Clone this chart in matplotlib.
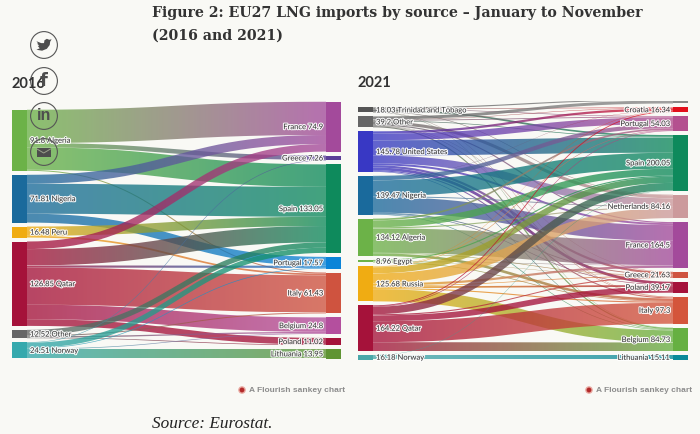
import numpy as np
import matplotlib
matplotlib.use('Agg')
import matplotlib.pyplot as plt
import matplotlib.patheffects as pe
from matplotlib.colors import to_rgb
from matplotlib.patches import Circle, Polygon, Rectangle
from matplotlib.path import Path

# Data, 2016

sources_16 = ['Algeria', 'Nigeria', 'Peru', 'Qatar', 'Other', 'Norway']
source_vals_16 = [91.8, 71.81, 16.48, 126.85, 12.52, 24.51]
source_cols_16 = ['#6cb248', '#1a6a9c', '#f0ac12', '#a5123a', '#666666', '#35a9ad']

targets_16 = ['France', 'Greece', 'Spain', 'Portugal', 'Italy', 'Belgium', 'Poland', 'Lithuania']
target_vals_16 = [74.9, 7.26, 133.05, 17.57, 61.43, 24.8, 11.02, 13.95]
target_cols_16 = ['#a34a9b', '#5b3f98', '#0e8a5c', '#0b84d8', '#cf533f', '#b44f9e', '#a5123a', '#5f9433']

flows_16 = [
    [50, 6.5, 33.8, 0, 1.5, 0, 0, 0],
    [13.5, 0, 45, 13.31, 0, 0, 0, 0],
    [0, 0, 13.9, 0, 2.58, 0, 0, 0],
    [11.4, 0, 24.55, 3.26, 55.83, 21.8, 10.02, 0],
    [0, 0, 8, 0, 1.52, 2, 1, 0],
    [0, 0.76, 7.8, 1, 0, 1, 0, 13.95],
]

# Data, 2021

sources_21 = ['Trinidad and Tobago', 'Other', 'United States', 'Nigeria', 'Algeria',
              'Egypt', 'Russia', 'Qatar', 'Norway']
source_vals_21 = [18.03, 39.2, 145.78, 139.47, 134.12, 8.96, 125.68, 164.22, 16.18]
source_cols_21 = ['#555555', '#666666', '#3838c4', '#1a6a9c', '#6cb248', '#6cb248',
                  '#f0ac12', '#a5123a', '#4aa8aa']

# the top grey node has no label in the picture
targets_21 = ['', 'Croatia', 'Portugal', 'Spain', 'Netherlands', 'France', 'Greece',
              'Poland', 'Italy', 'Belgium', 'Lithuania']
target_vals_21 = [14.62, 16.34, 54.03, 200.05, 84.16, 164.5, 21.63, 39.17, 97.3, 84.73, 15.11]
target_cols_21 = ['#888888', '#e2101c', '#b4508f', '#0e8a5c', '#cc9a9c', '#a34a9b', '#cf533f',
                  '#a5123a', '#d4553b', '#66b042', '#0a8a9a']

flows_21 = [
    [4, 2, 2, 6, 2, 0, 0, 0, 1, 1.03, 0],
    [10.62, 1.5, 3, 2.53, 11, 4, 1, 0, 1.47, 4.08, 0],
    [0, 8, 24, 55, 28, 7, 8, 10, 3.78, 2, 0],
    [0, 0.84, 15, 57.47, 3.16, 56, 3, 2, 0, 2, 0],
    [0, 0, 6.03, 24.98, 4, 88, 2, 0, 9.11, 0, 0],
    [0, 0, 0, 4, 0, 1.5, 1, 0, 2.46, 0, 0],
    [0, 1, 2, 22, 36, 8, 2.63, 6.17, 4, 43.88, 0],
    [0, 3, 2, 27, 0, 0, 4, 21, 75.48, 31.74, 0],
    [0, 0, 0, 1.07, 0, 0, 0, 0, 0, 0, 15.11],
]

# Layout, pixels of the 700x434 picture

W, H = 700, 434
BG = '#f9f9f5'
BAR_W = 15
PAD = 4.0
ALPHA = 0.78

plt.rcParams['font.family'] = 'Lato'

fig = plt.figure(figsize=(W / 100, H / 100), dpi=100, facecolor=BG)


def stack(vals, scale):
    # nodes are stacked from the bottom of the panel upward
    tops = []
    y = sum(v * scale for v in vals) + PAD * (len(vals) - 1)
    for v in vals:
        tops.append(y)
        y -= v * scale + PAD
    return tops


def ribbon(x0, x1, y0, y1, thick, n=80):
    # stroked bezier, so the width stays constant across the curve
    t = np.linspace(0, 1, n)
    xm = (x0 + x1) / 2
    x = (1 - t)**3 * x0 + 3 * (1 - t)**2 * t * xm + 3 * (1 - t) * t**2 * xm + t**3 * x1
    y = (1 - t)**3 * y0 + 3 * (1 - t)**2 * t * y0 + 3 * (1 - t) * t**2 * y1 + t**3 * y1
    dx, dy = np.gradient(x), np.gradient(y)
    norm = np.hypot(dx, dy)
    nx, ny = -dy / norm, dx / norm
    up = np.column_stack([x + nx * thick / 2, y + ny * thick / 2])
    down = np.column_stack([x - nx * thick / 2, y - ny * thick / 2])
    return np.vstack([up, down[::-1], up[:1]])


def sankey(rect, sources, source_vals, source_cols, targets, target_vals, target_cols,
           flows, scale):
    left, top, width, height = rect
    ax = fig.add_axes([left / W, 1 - (top + height) / H, width / W, height / H])
    ax.axis('off')
    ax.patch.set_alpha(0)

    s_tops = stack(source_vals, scale)
    t_tops = stack(target_vals, scale)
    x0, x1 = BAR_W, width - BAR_W

    # links, ordered inside every node by the node at the other end
    s_used = [0.0] * len(sources)
    t_used = [0.0] * len(targets)
    for i in range(len(sources)):
        for j in range(len(targets)):
            v = flows[i][j]
            if v == 0:
                continue
            thick = v * scale
            y0 = s_tops[i] - s_used[i] - thick / 2
            y1 = t_tops[j] - t_used[j] - thick / 2
            s_used[i] += thick
            t_used[j] += thick
            verts = ribbon(x0, x1, y0, y1, thick)
            c0, c1 = np.array(to_rgb(source_cols[i])), np.array(to_rgb(target_cols[j]))
            grad = np.linspace(c0, c1, 200)[None, :, :]
            lo, hi = verts[:, 1].min(), verts[:, 1].max()
            im = ax.imshow(grad, extent=(x0, x1, lo, hi), aspect='auto', alpha=ALPHA,
                           interpolation='bilinear', zorder=2)
            im.set_clip_path(Path(verts), ax.transData)
    ax.set_xlim(0, width)
    ax.set_ylim(0, height)

    # nodes and labels
    halo = [pe.withStroke(linewidth=1.6, foreground='white', alpha=0.9)]
    for name, v, c, y in zip(sources, source_vals, source_cols, s_tops):
        ax.add_patch(Rectangle((0, y - v * scale), BAR_W, v * scale, color=c, lw=0, zorder=3))
        ax.text(BAR_W + 3, y - v * scale / 2, f'{v:g} {name}', fontsize=5.5, color='#333333',
                va='center', ha='left', zorder=5, path_effects=halo)
    for name, v, c, y in zip(targets, target_vals, target_cols, t_tops):
        ax.add_patch(Rectangle((x1, y - v * scale), BAR_W, v * scale, color=c, lw=0, zorder=3))
        if name:
            ax.text(x1 - 3, y - v * scale / 2, f'{name} {v:g}', fontsize=5.5, color='#333333',
                    va='center', ha='right', zorder=5, path_effects=halo)


sankey((12, 100, 329, 258.5), sources_16, source_vals_16, source_cols_16,
       targets_16, target_vals_16, target_cols_16, flows_16, 0.665)
sankey((358, 101, 330, 258.5), sources_21, source_vals_21, source_cols_21,
       targets_21, target_vals_21, target_cols_21, flows_21, 0.278)

# Overlay for page text and the share buttons

over = fig.add_axes([0, 0, 1, 1], zorder=10)
over.set_xlim(0, W)
over.set_ylim(H, 0)
over.axis('off')
over.patch.set_alpha(0)

over.text(152, 13, 'Figure 2: EU27 LNG imports by source – January to November',
          family='DejaVu Serif', weight='bold', fontsize=10.13, color='#333333', va='center')
over.text(152, 36, '(2016 and 2021)', family='DejaVu Serif', weight='bold', fontsize=10.13,
          color='#333333', va='center')
over.text(152, 424, 'Source: Eurostat.', family='Liberation Serif', style='italic',
          fontsize=12.4, color='#222222', va='center')

over.text(12, 84, '2016', weight='bold', fontsize=10.5, color='#333333', va='center')
over.text(358, 83, '2021', weight='bold', fontsize=10.5, color='#333333', va='center')

for dot_x, text_x in [(242, 249), (589, 596)]:
    over.add_patch(Circle((dot_x, 390), 3.8, color='#e8a8a0', lw=0))
    over.add_patch(Circle((dot_x, 390), 2.4, color='#b32a2a', lw=0))
    over.text(text_x, 390, 'A Flourish sankey chart', family='Liberation Sans', weight='bold',
              fontsize=6.0, color='#8c8c8c', va='center')

ICON = '#4d4d4d'
for y in (45, 81, 116, 152):
    over.add_patch(Circle((44, y), 13.4, fill=False, ec='#555555', lw=0.8))

# twitter bird, rough outline
bird = np.array([[-8, -4], [-3, -2], [0, -2], [0.5, -5], [3, -6.5], [5.5, -5.5], [8, -6],
                 [6.5, -3.5], [6, 0], [3, 4], [-2, 6], [-8, 5], [-4.5, 3.5], [-6.5, 1],
                 [-5, 0.5], [-7.5, -1.5], [-6, -1.5]])
over.add_patch(Polygon(bird * [0.95, 0.95] + [44, 45], color=ICON, lw=0))

over.text(44, 81, 'f', family='DejaVu Sans', weight='bold', fontsize=13, color=ICON,
          ha='center', va='center')
over.text(44, 116, 'in', family='Liberation Sans', weight='bold', fontsize=11.5, color=ICON,
          ha='center', va='center')

over.add_patch(Rectangle((37, 148), 13.5, 9, color=ICON, lw=0))
over.plot([37, 43.7, 50.5], [149, 153, 149], color='#9aa08c', lw=0.7)

fig.savefig('out.png', dpi=100, facecolor=BG)
